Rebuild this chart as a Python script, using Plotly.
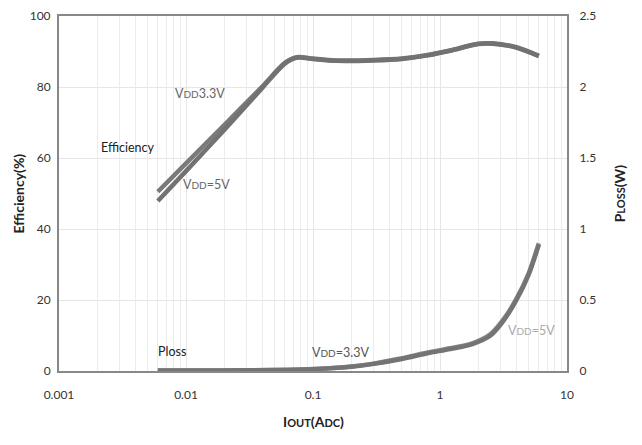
import plotly.graph_objects as go
import math

# Efficiency data
eff_x_33 = [0.006, 0.01, 0.02, 0.04, 0.06, 0.075, 0.1, 0.15, 0.3, 0.5, 0.8, 1.2, 2, 2.6, 4, 6]
eff_y_33 = [50.5, 58.5, 69.3, 80.2, 86.8, 88.4, 88.0, 87.5, 87.6, 88.0, 89.0, 90.3, 92.2, 92.3, 91.2, 88.8]
eff_x_5 = [0.006, 0.01, 0.02, 0.04, 0.06, 0.075, 0.1, 0.15, 0.3, 0.5, 0.8, 1.2, 2, 2.6, 4, 6]
eff_y_5 = [47.9, 56.3, 67.9, 79.8, 86.6, 88.3, 87.9, 87.4, 87.5, 87.9, 88.9, 90.2, 92.1, 92.2, 91.1, 88.7]

# Power loss data
ploss_x = [0.006, 0.02, 0.05, 0.1, 0.2, 0.3, 0.5, 0.8, 1.2, 1.8, 2.5, 3.2, 4, 5, 6]
ploss_33 = [0.003, 0.004, 0.007, 0.013, 0.03, 0.05, 0.085, 0.125, 0.155, 0.19, 0.25, 0.36, 0.5, 0.68, 0.89]
ploss_5 = [0.003, 0.004, 0.007, 0.014, 0.032, 0.052, 0.09, 0.13, 0.16, 0.195, 0.26, 0.37, 0.51, 0.69, 0.9]

x_ticks = [0.001, 0.01, 0.1, 1, 10]
x_tick_labels = ["0.001", "0.01", "0.1", "1", "10"]
y1_ticks = [0, 20, 40, 60, 80, 100]
y2_ticks = [0, 0.5, 1, 1.5, 2, 2.5]
y2_tick_labels = ["0", "0.5", "1", "1.5", "2", "2.5"]

FONT = "Lato"
fig = go.Figure()
fig.add_trace(go.Scatter(x=eff_x_33, y=eff_y_33, mode="lines", line=dict(color="#7a7a7a", width=4.5, shape="spline", smoothing=0.8), showlegend=False))
fig.add_trace(go.Scatter(x=eff_x_5, y=eff_y_5, mode="lines", line=dict(color="#727272", width=4.5, shape="spline", smoothing=0.8), showlegend=False))
fig.add_trace(go.Scatter(x=ploss_x, y=ploss_5, mode="lines", yaxis="y2", line=dict(color="#8c8c8c", width=4.5, shape="spline", smoothing=0.7), showlegend=False))
fig.add_trace(go.Scatter(x=ploss_x, y=ploss_33, mode="lines", yaxis="y2", line=dict(color="#747474", width=4.5, shape="spline", smoothing=0.7), showlegend=False))

minor_vals = []
for d in [-3, -2, -1, 0]:
    for m in range(2, 10):
        minor_vals.append(m * 10 ** d)

fig.update_layout(
    width=642, height=445,
    margin=dict(l=51, r=83, t=8, b=82),
    plot_bgcolor="white", paper_bgcolor="white",
    font=dict(family=FONT, size=12, color="#333"),
    xaxis=dict(type="log", range=[-3, 1], tickvals=x_ticks, ticktext=x_tick_labels, automargin=False,
               showgrid=True, gridcolor="#e6e6e6", gridwidth=1, ticklabelstandoff=12,
               minor=dict(tickvals=minor_vals, showgrid=True, gridcolor="#ececec", gridwidth=1),
               showline=True, linecolor="#888", linewidth=2, mirror=True, ticks=""),
    yaxis=dict(range=[0, 100], tickvals=y1_ticks, showgrid=True, gridcolor="#e6e6e6", automargin=False,
               showline=True, linecolor="#888", linewidth=2, ticks="", zeroline=False, ticklabelstandoff=4),
    yaxis2=dict(range=[0, 2.5], tickvals=y2_ticks, ticktext=y2_tick_labels, overlaying="y", side="right",
                automargin=False, ticklabelstandoff=8,
                showgrid=False, showline=True, linecolor="#888", linewidth=2, ticks="", zeroline=False),
)

# Axis titles
fig.add_annotation(x=0.5, y=-0.141, xref="paper", yref="paper", showarrow=False,
                   xanchor="center", yanchor="middle",
                   text="<b>I<span style='font-size:11px'>OUT</span>(A<span style='font-size:11px'>DC</span>)</b>",
                   font=dict(family=FONT, size=14, color="#222"))
fig.add_annotation(x=-0.0807, y=0.5, xref="paper", yref="paper", showarrow=False, textangle=-90,
                   xanchor="center", yanchor="middle",
                   text="<b>Efficiency(%)</b>", font=dict(family=FONT, size=14, color="#222"))
fig.add_annotation(x=1.104, y=0.5, xref="paper", yref="paper", showarrow=False, textangle=-90,
                   xanchor="center", yanchor="middle",
                   text="<b>P<span style='font-size:11px'>LOSS</span>(W)</b>", font=dict(family=FONT, size=14, color="#222"))

def ann(x, y, text, color="#555", ref="y"):
    fig.add_annotation(x=math.log10(x), y=y, xref="x", yref=ref, text=text, showarrow=False,
                       font=dict(family=FONT, size=12.5, color=color))

ann(0.0129, 78.3, "V<span style='font-size:10px'>DD</span>3.3V", "#666")
ann(0.00349, 63.1, "Efficiency", "#222")
ann(0.0146, 52.4, "V<span style='font-size:10px'>DD</span>=5V", "#666")
ann(0.00776, 5.6, "Ploss", "#222")
ann(0.166, 5.35, "V<span style='font-size:10px'>DD</span>=3.3V", "#555")
ann(5.21, 11.3, "V<span style='font-size:10px'>DD</span>=5V", "#aaa")

fig.write_html("out.html")
